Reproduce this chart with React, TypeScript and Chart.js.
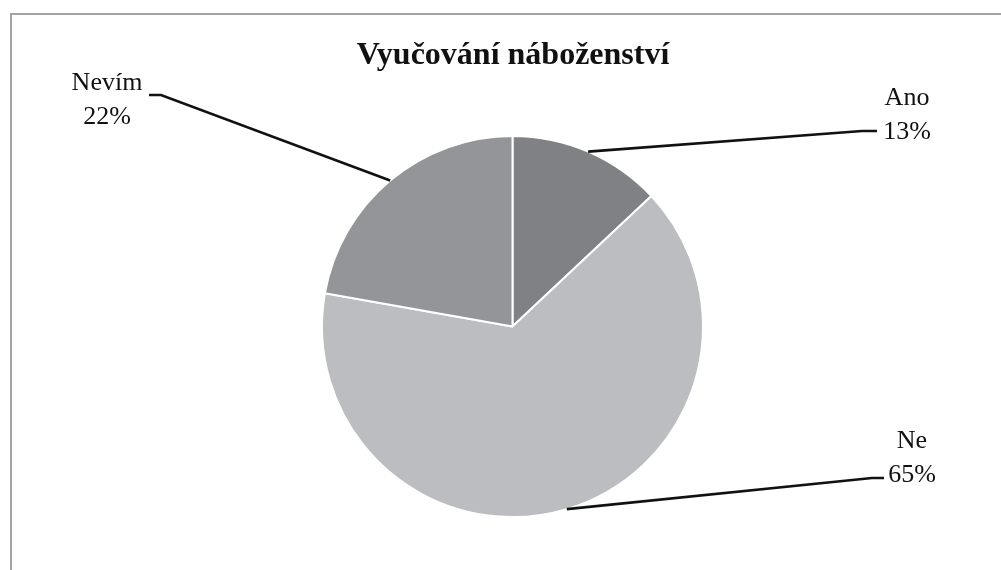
import React, { useEffect, useRef } from "react";
import { Chart, registerables } from "chart.js";

Chart.register(...registerables);

const title = "Vyučování náboženství";
const categories = ["Ano", "Ne", "Nevím"];
const values = [13, 64.8, 22.2];
const colors = ["#808184", "#bcbdc0", "#939598"];
// label layout: [textCenterX, firstLineY, elbowX, endX, lineY]
const labelLayout = [
  { tx: 907, ty: 98, elbowX: 862, endX: 877, lineY: 131 },
  { tx: 912, ty: 441, elbowX: 872, endX: 884, lineY: 478 },
  { tx: 107, ty: 83, elbowX: 161, endX: 149, lineY: 95 },
];

const labelsPlugin = {
  id: "customLabels",
  afterDraw(chart: any) {
    const ctx = chart.ctx;
    const meta = chart.getDatasetMeta(0);
    const total = values.reduce((a, b) => a + b, 0);
    ctx.save();
    // title
    ctx.fillStyle = "#111";
    ctx.font = "bold 32px 'Liberation Serif', serif";
    ctx.textAlign = "center";
    ctx.textBaseline = "middle";
    ctx.fillText(title, 513, 56);
    meta.data.forEach((arc: any, i: number) => {
      const p = arc.getProps(["x", "y", "startAngle", "endAngle", "outerRadius"], true);
      const mid = (p.startAngle + p.endAngle) / 2;
      const ax = p.x + Math.cos(mid) * p.outerRadius;
      const ay = p.y + Math.sin(mid) * p.outerRadius;
      const L = labelLayout[i];
      ctx.strokeStyle = "#111";
      ctx.lineWidth = 2.6;
      ctx.beginPath();
      ctx.moveTo(ax, ay);
      ctx.lineTo(L.elbowX, L.lineY);
      ctx.lineTo(L.endX, L.lineY);
      ctx.stroke();
      ctx.fillStyle = "#111";
      ctx.font = "26px 'Liberation Serif', serif";
      ctx.textAlign = "center";
      ctx.textBaseline = "middle";
      ctx.fillText(categories[i], L.tx, L.ty);
      ctx.fillText(Math.round((values[i] / total) * 100) + "%", L.tx, L.ty + 34);
    });
    ctx.restore();
  },
};

export default function App() {
  const ref = useRef<HTMLCanvasElement>(null);
  useEffect(() => {
    document.body.style.margin = "0";
    const chart = new Chart(ref.current!, {
      type: "pie",
      data: {
        labels: categories,
        datasets: [
          {
            data: values,
            backgroundColor: colors,
            borderColor: "#ffffff",
            borderWidth: 2,
          },
        ],
      },
      options: {
        animation: false,
        responsive: false,
        layout: { padding: { left: 321, right: 297, top: 135, bottom: 52 } },
        plugins: { legend: { display: false }, tooltip: { enabled: false }, title: { display: false } },
      },
      plugins: [labelsPlugin],
    });
    return () => chart.destroy();
  }, []);
  return (
    <div style={{ position: "relative", width: 1001, height: 570, overflow: "hidden", background: "#fff" }}>
      <div
        style={{
          position: "absolute",
          left: 10,
          top: 13,
          width: 1200,
          height: 800,
          border: "2px solid #a3a3a5",
          boxSizing: "border-box",
        }}
      />
      <canvas ref={ref} width={1001} height={570} style={{ position: "absolute", left: 0, top: 0 }} />
    </div>
  );
}
